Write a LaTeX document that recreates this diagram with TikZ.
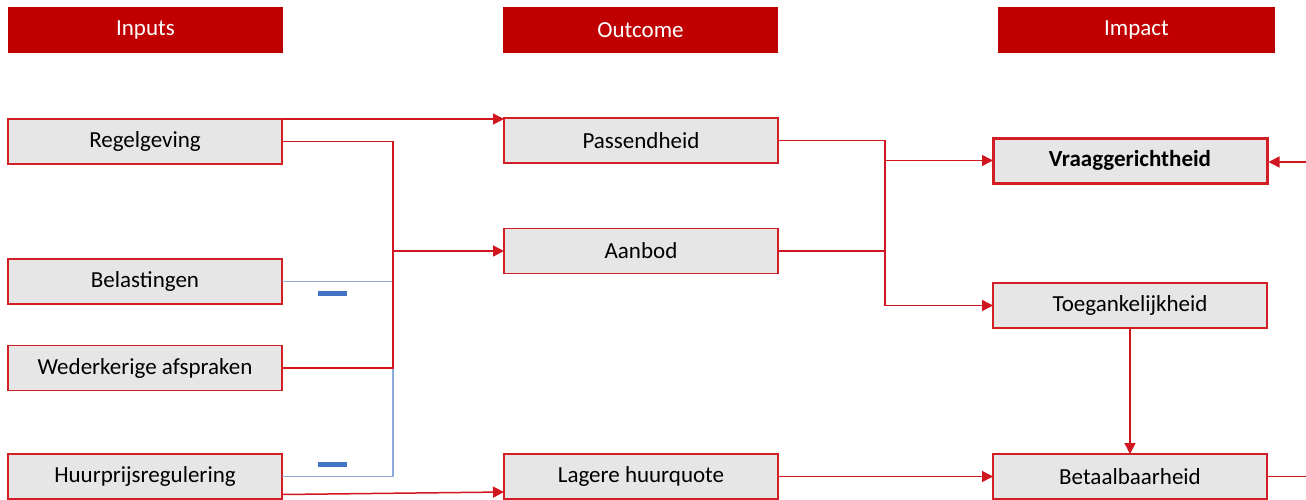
\documentclass[tikz,border=0pt]{standalone}
\usepackage{fontspec}
\setmainfont{Carlito}
\usetikzlibrary{arrows.meta,calc}
\definecolor{hdred}{HTML}{C00000}
\definecolor{boxred}{HTML}{D21F26}
\definecolor{linered}{HTML}{D0161E}
\definecolor{boxgray}{HTML}{E6E6E6}
\definecolor{negblue}{HTML}{8EAADB}
\definecolor{minusblue}{HTML}{4472C4}
\begin{document}
\begin{tikzpicture}[x=1pt,y=-1pt,
  header/.style={rectangle, fill=hdred, draw=none, minimum width=275, minimum height=46,
    inner sep=0, outer sep=0, text=white, font=\fontsize{23}{27}\selectfont},
  factor/.style={rectangle, fill=boxgray, draw=boxred, line width=1.6pt, minimum width=274,
    minimum height=45, inner sep=0, outer sep=0, text=black, font=\fontsize{23}{27}\selectfont},
  keyfactor/.style={factor, line width=3pt, font=\fontsize{23}{27}\selectfont\bfseries},
  link/.style={draw=linered, line width=1.5pt},
  arr/.style={link, -{Triangle[length=11pt, width=11pt]}},
  neglink/.style={draw=negblue, line width=1.7pt},
  minus/.style={rectangle, fill=minusblue, draw=none, minimum width=29, minimum height=5, inner sep=0}
]
\useasboundingbox (0,0) rectangle (1306,499);

% column headers
\node[header] (hIn)  at (145.5,30) {Inputs};
\node[header] (hOut) at (640.5,30) {Outcome};
\node[header, minimum width=277] (hImp) at (1136.5,30) {Impact};

% inputs
\node[factor] (regel) at (145,141.5) {Regelgeving};
\node[factor] (belas) at (145,281.5) {Belastingen};
\node[factor] (weder) at (145,368)   {Wederkerige afspraken};
\node[factor] (huur)  at (145,476.5) {Huurprijsregulering};

% outcomes
\node[factor] (passend) at (641,140.5) {Passendheid};
\node[factor] (aanbod)  at (641,251)   {Aanbod};
\node[factor] (lager)   at (641,476.5) {Lagere huurquote};

% impacts
\node[keyfactor] (vraag)  at (1130,160.5) {Vraaggerichtheid};
\node[factor]    (toeg)   at (1130,305.5) {Toegankelijkheid};
\node[factor]    (betaal) at (1130,476.5) {Betaalbaarheid};

% junction columns and loose ends
\coordinate (j1) at (393,0);
\coordinate (j2) at (885,0);
\coordinate (loopOut) at (1306,476.5);
\coordinate (loopIn)  at (1306,162);
\coordinate (huurLow) at ($(huur.east)+(0,18)$);

% negative influences (blue)
\draw[neglink] (belas.east) -- (belas.east -| j1);
\draw[neglink] (weder.east -| j1) -- (j1 |- huur.east) -- (huur.east);
\node[minus] (minA) at (332.5,293.5) {};
\node[minus] (minB) at (332.5,464.5) {};

% inputs to outcomes
\draw[arr] (regel.north east) -- (regel.north east -| passend.west);
\draw[link] (regel.east) -- (regel.east -| j1) -- (j1 |- weder.east) -- (weder.east);
\draw[arr] (j1 |- aanbod.west) -- (aanbod.west);
\draw[arr] (huurLow) -- ($(lager.west)+(0,15.5)$);

% outcomes to impacts
\draw[link] (passend.east) -- (passend.east -| j2) -- (j2 |- toeg.west);
\draw[arr] (j2 |- toeg.west) -- (toeg.west);
\draw[link] (aanbod.east) -- (aanbod.east -| j2);
\draw[arr] (j2 |- vraag.west) -- (vraag.west);
\draw[arr] (toeg.south) -- (betaal.north);
\draw[arr] (lager.east) -- (betaal.west);

% feedback leaving and entering on the right
\draw[link] (betaal.east) -- (loopOut);
\draw[arr] (loopIn) -- ($(vraag.east)+(1.5,1.5)$);
\end{tikzpicture}
\end{document}
